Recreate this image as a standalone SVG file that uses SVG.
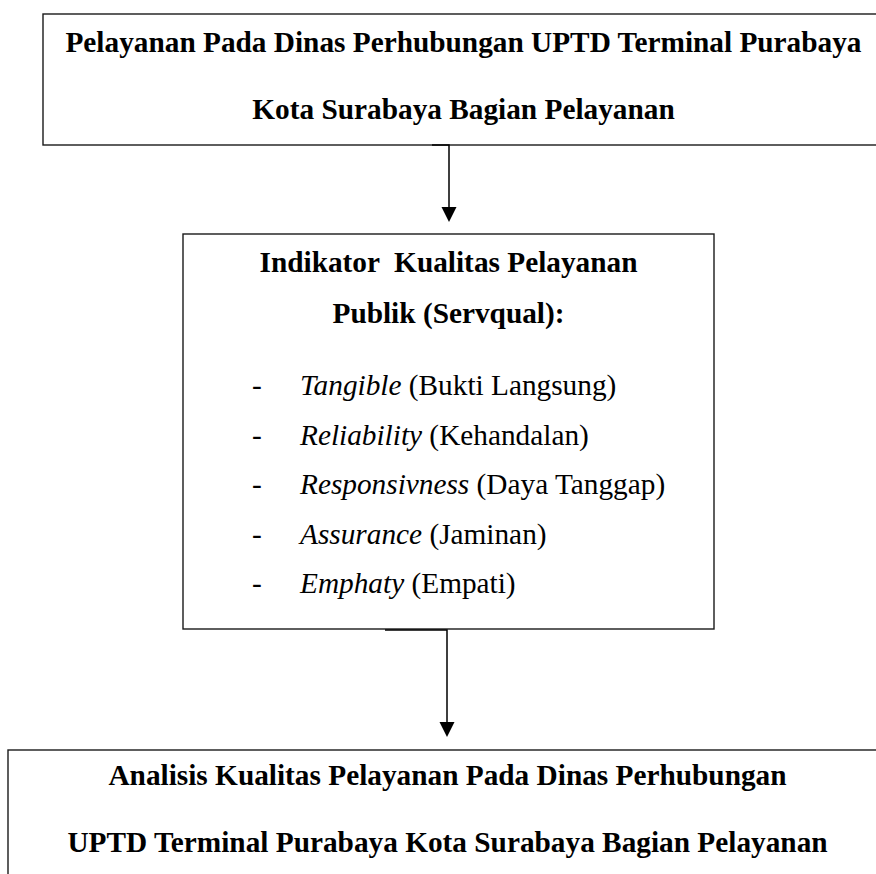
<svg xmlns="http://www.w3.org/2000/svg" width="876" height="874" viewBox="0 0 876 874">
<style>
.box{fill:#fff;stroke:#1a1a1a;stroke-width:1.4}
text{font-family:'Liberation Serif','Times New Roman',serif;font-size:29.3px;fill:#000}
.b{font-weight:bold}
.c{text-anchor:middle}
.i{font-style:italic}
.conn{fill:none;stroke:#000;stroke-width:1.5}
.head{fill:#000}
</style>
<rect width="876" height="874" fill="#fff"/>
<g id="node-top">
<rect class="box" x="43" y="14" width="850" height="131"/>
<text class="b c" x="463.5" y="52">Pelayanan Pada Dinas Perhubungan UPTD Terminal Purabaya</text>
<text class="b c" x="463.5" y="118.5">Kota Surabaya Bagian Pelayanan</text>
</g>
<g id="node-middle">
<rect class="box" x="183" y="234" width="531" height="395"/>
<text class="b c" x="448.5" y="272" xml:space="preserve">Indikator  Kualitas Pelayanan</text>
<text class="b c" x="448.5" y="322.5">Publik (Servqual):</text>
<text x="252" y="395">-</text>
<text x="300" y="395"><tspan class="i">Tangible</tspan> (Bukti Langsung)</text>
<text x="252" y="444.5">-</text>
<text x="300" y="444.5"><tspan class="i">Reliability</tspan> (Kehandalan)</text>
<text x="252" y="494">-</text>
<text x="300" y="494"><tspan class="i">Responsivness</tspan> (Daya Tanggap)</text>
<text x="252" y="543.5">-</text>
<text x="300" y="543.5"><tspan class="i">Assurance</tspan> (Jaminan)</text>
<text x="252" y="593">-</text>
<text x="300" y="593"><tspan class="i">Emphaty</tspan> (Empati)</text>
</g>
<g id="node-bottom">
<rect class="box" x="8" y="750" width="900" height="200"/>
<text class="b c" x="447.5" y="785">Analisis Kualitas Pelayanan Pada Dinas Perhubungan</text>
<text class="b c" x="447.5" y="852">UPTD Terminal Purabaya Kota Surabaya Bagian Pelayanan</text>
</g>
<g id="connectors">
<path class="conn" d="M432,145 H449 V209"/>
<polygon class="head" points="441.5,207 456.5,207 449,222"/>
<path class="conn" d="M385,630 H447 V724"/>
<polygon class="head" points="439.5,722 454.5,722 447,737"/>
</g>
</svg>
